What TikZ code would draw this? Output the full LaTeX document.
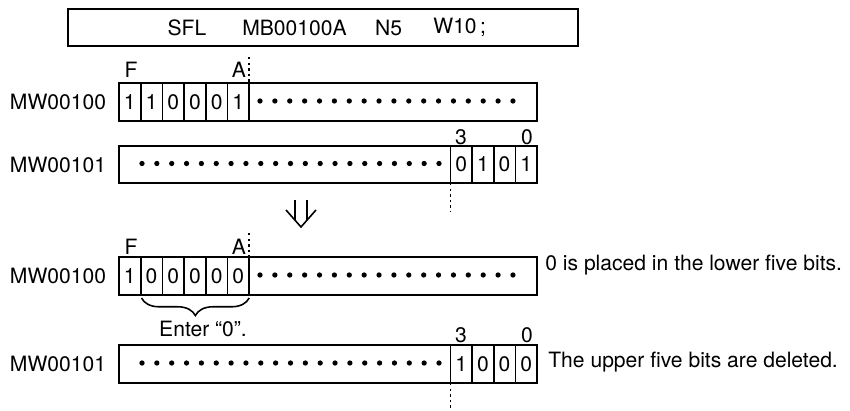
\documentclass[tikz,border=0pt]{standalone}
\usepackage{fontspec}
\setmainfont{TeX Gyre Heros}
\usetikzlibrary{decorations.pathreplacing}

\begin{document}
\begin{tikzpicture}[x=0.02cm, y=-0.02cm,
    font=\fontsize{12}{14}\selectfont,
    regline/.style={line width=0.95pt},
    marker/.style={dash pattern=on 1.4pt off 1.8pt, line width=0.9pt},
    bitdot/.style={fill=black}]

  \useasboundingbox (0,0) rectangle (850,411);

  % Instruction box
  \draw[line width=1.1pt] (68,9) rectangle (578,46);
  \node (ins) at (187,27.5) {SFL};
  \node (src) at (294.5,27.5) {MB00100A};
  \node (num) at (388.5,27.5) {N5};
  \node[anchor=west, inner sep=0pt] (wid) at (433,27.5) {W10\,;};

  % Register names
  \node (name1) at (58,102) {MW00100};
  \node (name2) at (58,164.5) {MW00101};
  \node (name3) at (58,276) {MW00100};
  \node (name4) at (58,364) {MW00101};

  % Before: MW00100
  \draw[regline] (119,83) rectangle (537,121);
  \foreach \b [count=\i] in {1,1,0,0,0,1} {
    \draw[regline] ({119+21.7*(\i-1)},83) rectangle ({119+21.7*\i},121);
    \node (ra\i) at ({108.15+21.7*\i},102) {\b};
  }
  \foreach \k in {0,...,17} \fill[bitdot] ({260+14.88*\k},101) circle (1.5pt);
  \node (fa) at (131,70) {F};
  \node (aa) at (239,70) {A};
  \coordinate (ma) at (249.2,57);
  \coordinate (mb) at (249.2,83);
  \draw[marker] (ma) -- (mb);

  % Before: MW00101
  \draw[regline] (119,146) rectangle (537,183);
  \foreach \b [count=\i] in {0,1,0,1} {
    \draw[regline] ({450.4+21.65*(\i-1)},146) rectangle ({450.4+21.65*\i},183);
    \node (rb\i) at ({439.6+21.65*\i},164.5) {\b};
  }
  \foreach \k in {0,...,20} \fill[bitdot] ({142+14.85*\k},163.5) circle (1.5pt);
  \node (tb) at (461,137) {3};
  \node (zb) at (527,137) {0};
  \coordinate (mc) at (450.4,183);
  \coordinate (md) at (450.4,212);
  \draw[marker] (mc) -- (md);

  % Shift arrow
  \draw[line width=0.9pt] (295,200) -- (295,219.6);
  \draw[line width=0.9pt] (307,200) -- (307,219.6);
  \draw[line width=0.9pt, line join=miter] (286,210) -- (301,227) -- (316,210);

  % After: MW00100
  \draw[regline] (119,257) rectangle (537,295);
  \foreach \b [count=\i] in {1,0,0,0,0,0} {
    \draw[regline] ({119+21.7*(\i-1)},257) rectangle ({119+21.7*\i},295);
    \node (rc\i) at ({108.15+21.7*\i},276) {\b};
  }
  \foreach \k in {0,...,17} \fill[bitdot] ({260+14.88*\k},275) circle (1.5pt);
  \node (fc) at (131,247) {F};
  \node (ac) at (239,247) {A};
  \coordinate (me) at (249.2,233);
  \coordinate (mf) at (249.2,257);
  \draw[marker] (me) -- (mf);
  \node[anchor=west, inner sep=0pt] (note1) at (545,265) {0 is placed in the lower five bits.};

  % Brace under the shifted-in zeros
  \coordinate (bl) at (141.5,298);
  \coordinate (br) at (249.2,298);
  \draw[line width=0.9pt, decorate, decoration={brace, mirror, amplitude=10pt}] (bl) -- (br);
  \node (enter) at (203,329) {Enter “0”.};

  % After: MW00101
  \draw[regline] (119,345) rectangle (537,383);
  \foreach \b [count=\i] in {1,0,0,0} {
    \draw[regline] ({450.4+21.65*(\i-1)},345) rectangle ({450.4+21.65*\i},383);
    \node (rd\i) at ({439.6+21.65*\i},364) {\b};
  }
  \foreach \k in {0,...,20} \fill[bitdot] ({142+14.85*\k},363) circle (1.5pt);
  \node (td) at (461,335) {3};
  \node (zd) at (527,335) {0};
  \coordinate (mg) at (450.4,383);
  \coordinate (mh) at (450.4,411);
  \draw[marker] (mg) -- (mh);
  \node[anchor=west, inner sep=0pt] (note2) at (548,362) {The upper five bits are deleted.};

\end{tikzpicture}
\end{document}
